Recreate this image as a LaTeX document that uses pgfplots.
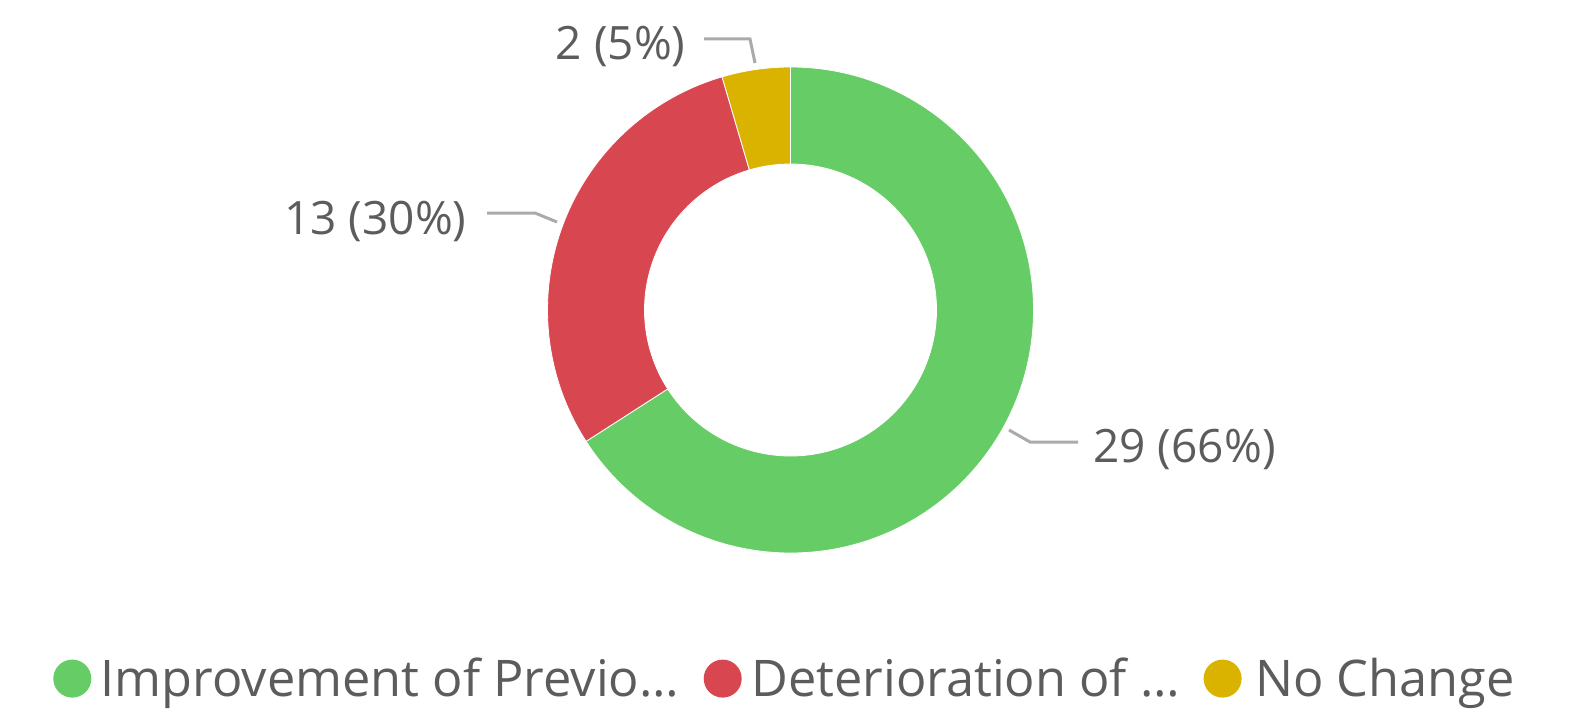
\documentclass[border=0pt]{standalone}
\usepackage{pgfplots}
\pgfplotsset{compat=1.18}
\usepackage{pgfplotstable}
\usepackage{fontspec}
\setmainfont{Open Sans}
\definecolor{cG}{HTML}{66CC66}
\definecolor{cR}{HTML}{D84650}
\definecolor{cY}{HTML}{DAB300}
\definecolor{txt}{HTML}{5C5C5C}
\definecolor{lead}{HTML}{AAAAAA}

\pgfplotstableread{
label value
Improvement 29
Deterioration 13
NoChange 2
}\slices

\begin{document}
\begin{tikzpicture}
\pgfplotstablegetelem{0}{value}\of\slices \let\va\pgfplotsretval
\pgfplotstablegetelem{1}{value}\of\slices \let\vb\pgfplotsretval
\pgfplotstablegetelem{2}{value}\of\slices \let\vc\pgfplotsretval
\pgfmathsetmacro\tot{\va+\vb+\vc}
\pgfmathsetmacro\aA{90-360*\va/\tot}
\pgfmathsetmacro\aB{\aA-360*\vb/\tot}
\pgfmathsetmacro\aC{\aB-360*\vc/\tot}
\def\Ro{121.5pt}
\def\Ri{73pt}
\def\Rd{48.5pt}
\begin{axis}[x=0.5pt,y=0.5pt,xmin=0,xmax=1574,ymin=0,ymax=709,
  hide axis,clip=false,scale only axis]
\coordinate (ll) at (axis cs:0,0);
\coordinate (ur) at (axis cs:1574,709);
% donut slices
\fill[cG,draw=white,line width=0.4pt] (axis cs:790.5,399) ++(90:\Ro) arc[start angle=90,end angle=\aA,radius=\Ro]
   -- ++(\aA+180:\Rd) arc[start angle=\aA,end angle=90,radius=\Ri] -- cycle;
\fill[cR,draw=white,line width=0.4pt] (axis cs:790.5,399) ++(\aA:\Ro) arc[start angle=\aA,end angle=\aB,radius=\Ro]
   -- ++(\aB+180:\Rd) arc[start angle=\aB,end angle=\aA,radius=\Ri] -- cycle;
\fill[cY,draw=white,line width=0.4pt] (axis cs:790.5,399) ++(\aB:\Ro) arc[start angle=\aB,end angle=\aC,radius=\Ro]
   -- ++(\aC+180:\Rd) arc[start angle=\aC,end angle=\aB,radius=\Ri] -- cycle;
% leader lines
\draw[lead,line width=1.5pt] (axis cs:704,670) -- (axis cs:750,670) -- (axis cs:755,646);
\draw[lead,line width=1.5pt] (axis cs:487,496) -- (axis cs:535,496) -- (axis cs:557,487);
\draw[lead,line width=1.5pt] (axis cs:1009,279) -- (axis cs:1030,267) -- (axis cs:1078,267);
% labels
\node[anchor=base east,inner sep=0pt,text=txt,font=\fontsize{23pt}{28pt}\selectfont] at (axis cs:686,649) {2 (5\%)};
\node[anchor=base east,inner sep=0pt,text=txt,font=\fontsize{23pt}{28pt}\selectfont] at (axis cs:467,475) {13 (30\%)};
\node[anchor=base west,inner sep=0pt,text=txt,font=\fontsize{23pt}{28pt}\selectfont] at (axis cs:1093,247) {29 (66\%)};
% legend
\fill[cG] (axis cs:72.3,30.4) circle[radius=9.5pt];
\fill[cR] (axis cs:722.7,30.4) circle[radius=9.5pt];
\fill[cY] (axis cs:1222.6,30.4) circle[radius=9.5pt];
\node[anchor=base west,inner sep=0pt,text=txt,font=\fontsize{25.25pt}{30pt}\selectfont] at (axis cs:100.4,12.8) {Improvement of Previo…};
\node[anchor=base west,inner sep=0pt,text=txt,font=\fontsize{25.25pt}{30pt}\selectfont] at (axis cs:751,12.8) {Deterioration of …};
\node[anchor=base west,inner sep=0pt,text=txt,font=\fontsize{25.25pt}{30pt}\selectfont] at (axis cs:1254.8,12.8) {No Change};
\end{axis}
\pgfresetboundingbox
\useasboundingbox (ll) rectangle (ur);
\end{tikzpicture}
\end{document}
